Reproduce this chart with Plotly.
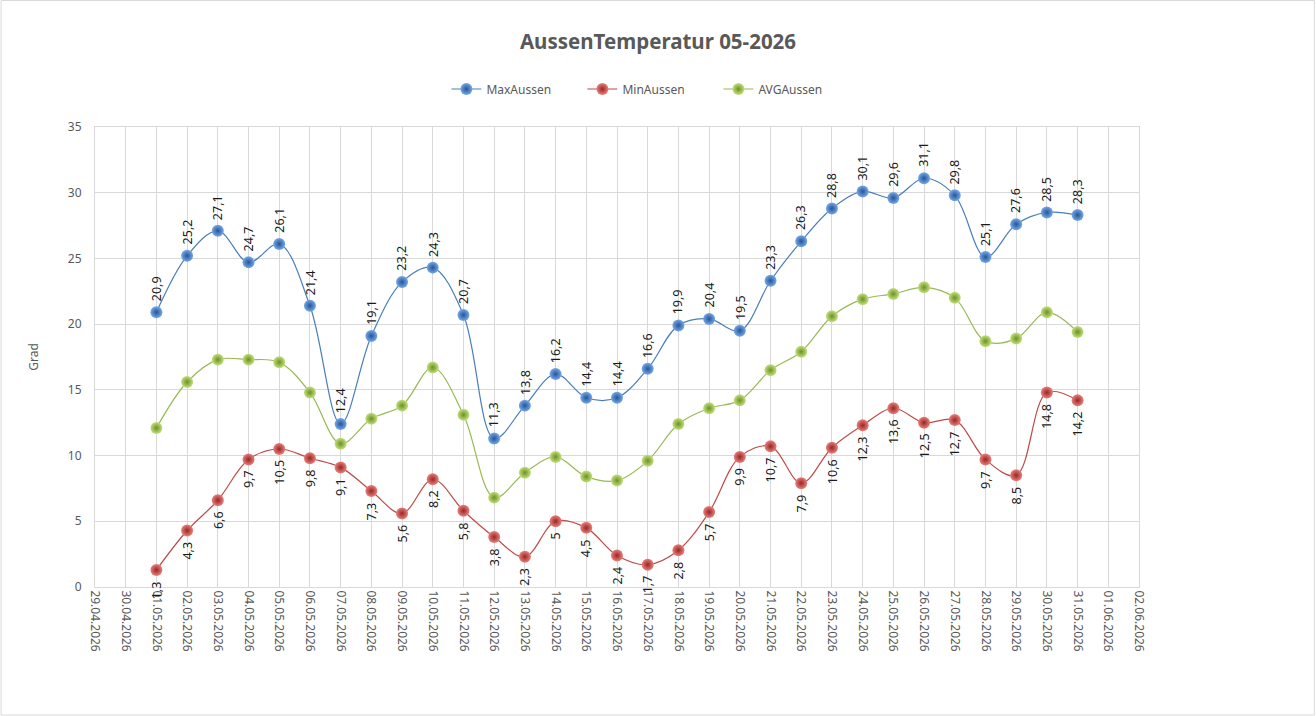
"""
 AussenTemperatur 05-2026 - Max / Min / AVG per Tag
"""
import plotly.graph_objects as go

# ------------------( 1 ) Daten ------------------------------------------------
days = [f"2026-05-{d:02d}" for d in range(1, 32)]

max_aussen = [20.9, 25.2, 27.1, 24.7, 26.1, 21.4, 12.4, 19.1, 23.2, 24.3, 20.7,
              11.3, 13.8, 16.2, 14.4, 14.4, 16.6, 19.9, 20.4, 19.5, 23.3, 26.3,
              28.8, 30.1, 29.6, 31.1, 29.8, 25.1, 27.6, 28.5, 28.3]

min_aussen = [1.3, 4.3, 6.6, 9.7, 10.5, 9.8, 9.1, 7.3, 5.6, 8.2, 5.8,
              3.8, 2.3, 5.0, 4.5, 2.4, 1.7, 2.8, 5.7, 9.9, 10.7, 7.9,
              10.6, 12.3, 13.6, 12.5, 12.7, 9.7, 8.5, 14.8, 14.2]

avg_aussen = [12.1, 15.6, 17.3, 17.3, 17.1, 14.8, 10.9, 12.8, 13.8, 16.7, 13.1,
              6.8, 8.7, 9.9, 8.4, 8.1, 9.6, 12.4, 13.6, 14.2, 16.5, 17.9,
              20.6, 21.9, 22.3, 22.8, 22.0, 18.7, 18.9, 20.9, 19.4]

x_range = ["2026-04-29", "2026-06-02"]
y_ticks = [0, 5, 10, 15, 20, 25, 30, 35]

FONT = "Noto Sans"
GREY = "#595959"
GRID = "#D9D9D9"


def fmt(v):
    return f"{v:g}".replace(".", ",")


def sphere(name, values, line_col, light_col, dark_col):
    return go.Scatter(x=days, y=values, name=name,
                      mode="lines+markers",
                      line=dict(color=line_col, width=1.2, shape="spline", smoothing=1),
                      marker=dict(size=12, color=light_col,
                                  gradient=dict(type="radial", color=dark_col),
                                  line=dict(width=0)))


# ------------------( 2 ) Traces ------------------------------------------------
trace0 = sphere("MaxAussen", max_aussen, "#4A7EBB", "#76A9E6", "#24559A")
trace1 = sphere("MinAussen", min_aussen, "#BE4B48", "#E8807D", "#9A2623")
trace2 = sphere("AVGAussen", avg_aussen, "#98B954", "#C4E07E", "#6A9224")

fig = go.Figure([trace0, trace1, trace2])

# Datenbeschriftungen (gedreht)
for d, v in zip(days, max_aussen):
    fig.add_annotation(x=d, y=v, text=fmt(v), textangle=-90, showarrow=False,
                       yanchor="bottom", xanchor="center", yshift=9,
                       font=dict(family=FONT, size=12.5, color="#1A1A1A"))
for d, v in zip(days, min_aussen):
    fig.add_annotation(x=d, y=v, text=fmt(v), textangle=-90, showarrow=False,
                       yanchor="top", xanchor="center", yshift=-9,
                       font=dict(family=FONT, size=12.5, color="#1A1A1A"))

# Rahmen ums Diagramm
pw, ph = 1045.0, 460.0
fig.add_shape(type="rect", xref="paper", yref="paper",
              x0=-94 / pw, x1=1 + 175.5 / pw, y0=-128 / ph, y1=1 + 126.5 / ph,
              line=dict(color=GRID, width=1), layer="below")

# ------------------( 3 ) Layout ------------------------------------------------
fig.update_layout(width=1316, height=716,
                  margin=dict(l=94.5, r=176.5, t=127, b=129),
                  paper_bgcolor="white", plot_bgcolor="white",
                  separators=",.",
                  font=dict(family=FONT, size=12, color=GREY),
                  title=dict(text="<b>AussenTemperatur 05-2026</b>",
                             x=0.5, xanchor="center", y=1 - 42 / 716, yanchor="middle",
                             font=dict(family=FONT, size=20.5, color=GREY)),
                  legend=dict(orientation="h", x=0.532, xanchor="center",
                              y=1 + 38 / ph, yanchor="middle",
                              font=dict(family=FONT, size=12, color=GREY),
                              itemwidth=30, entrywidth=91),
                  showlegend=True,
                  xaxis=dict(type="date", range=x_range, dtick=86400000,
                             tick0="2026-04-29", tickformat="%d.%m.%Y",
                             tickangle=90, showgrid=True, gridcolor=GRID,
                             showline=True, linecolor=GRID, mirror=True,
                             ticks="", zeroline=False,
                             tickfont=dict(family=FONT, size=12, color=GREY)),
                  yaxis=dict(range=[0, 35], tickvals=y_ticks, showgrid=True,
                             gridcolor=GRID, showline=True, linecolor=GRID,
                             mirror=True, zeroline=False, ticks="",
                             ticklabelstandoff=10,
                             title=dict(text="Grad", standoff=26,
                                        font=dict(family=FONT, size=12, color=GREY)),
                             tickfont=dict(family=FONT, size=12, color=GREY)))

# Seitenrand weg, damit das Diagramm bei 0/0 beginnt
fig.write_html("out.html", config={"displayModeBar": False},
               post_script="document.body.style.margin='0';")
